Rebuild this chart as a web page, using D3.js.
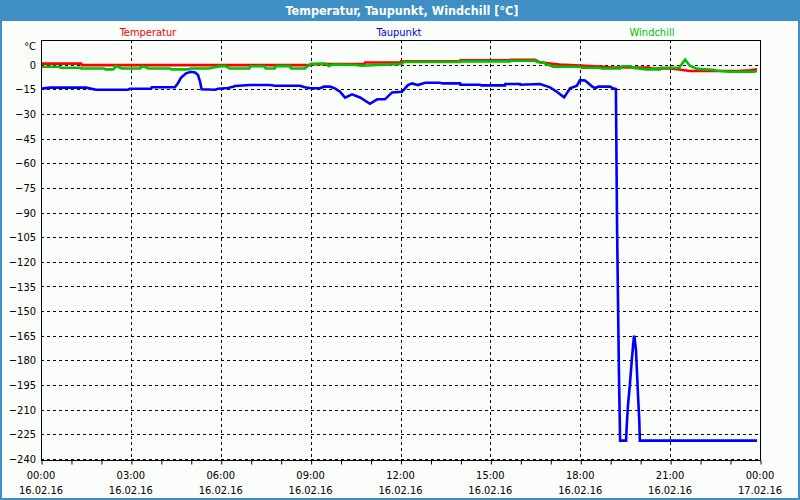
<!DOCTYPE html>
<html><head><meta charset="utf-8">
<script src="https://cdn.jsdelivr.net/npm/d3@7/dist/d3.min.js"></script>
<style>
html,body{margin:0;padding:0;background:#fff;}
svg text{font-family:"DejaVu Sans Condensed","Liberation Sans",Arial,sans-serif;}
</style></head><body>
<svg id="chart" width="800" height="500"></svg>
<script>
const title = "Temperatur, Taupunkt, Windchill [°C]";
const seriesNames = ["Temperatur", "Taupunkt", "Windchill"];
const seriesColors = ["#ff0000", "#0000ff", "#00c000"];
const yTicks = [0,-15,-30,-45,-60,-75,-90,-105,-120,-135,-150,-165,-180,-195,-210,-225,-240];
const xTickHours = [0,3,6,9,12,15,18,21,24];
const xTimeLabels = ["00:00","03:00","06:00","09:00","12:00","15:00","18:00","21:00","00:00"];
const xDateLabels = ["16.02.16","16.02.16","16.02.16","16.02.16","16.02.16","16.02.16","16.02.16","16.02.16","17.02.16"];

// Temperatur (hours since 16.02.16 00:00, °C)
const tempHours  = [0,1.34,1.36,9.0,9.02,10.8,10.82,12.0,12.02,13.99,14.0,15.65,15.67,16.49,16.66,17.0,17.3,18.0,18.66,19.0,20.3,20.35,21.0,21.3,21.66,23.3,23.66,23.9];
const tempValues = [0.6,0.6,-0.3,-0.3,0.3,0.3,1.3,1.3,2.0,2.0,2.6,2.6,3.0,3.0,1.4,0.6,0,-0.6,-1.2,-1.6,-1.8,-2.3,-2.3,-3.0,-3.9,-3.9,-3.5,-2.9];

// Taupunkt
const dewHours  = [0,0.3,1.5,1.84,2.9,2.97,3.67,3.7,4.47,4.57,4.67,4.84,5.01,5.14,5.24,5.31,5.36,5.81,5.91,6.24,6.41,6.48,6.98,7.64,7.81,8.64,8.81,9.0,9.31,9.45,9.65,9.81,9.98,10.15,10.38,10.65,10.98,11.22,11.48,11.72,12.05,12.25,12.38,12.58,12.82,13.32,13.4,13.99,14.0,14.65,14.7,15.49,15.5,15.99,16.0,16.66,16.99,17.22,17.46,17.66,17.89,17.99,18.16,18.42,18.52,18.6,18.99,19.09,19.19,19.21,19.23,19.26,19.29,19.33,19.53,19.55,19.59,19.66,19.72,19.79,19.81,19.86,19.93,19.97,19.99,23.9];
const dewValues = [-14.7,-14,-14,-15.3,-15.3,-14.7,-14.7,-13.8,-13.8,-11.4,-8,-5.3,-4.3,-4.7,-6.3,-10.4,-15,-15.3,-14.7,-14.2,-13.5,-13,-12.4,-12.4,-12.8,-12.8,-13.8,-14.4,-14.4,-13.4,-13.4,-14.4,-16.5,-20.1,-18.1,-20,-23.8,-21.1,-21.1,-16.9,-16.5,-12.4,-11.4,-12.4,-11,-11,-11.4,-11.4,-12.2,-12.2,-12.6,-12.6,-11.8,-11.8,-12.2,-11.8,-13.8,-16.5,-19.9,-14.4,-12.8,-9.4,-9.6,-13.6,-14.2,-13.4,-13.4,-14.4,-14.8,-58,-100.8,-143.3,-185.9,-228.8,-228.8,-220.4,-208.2,-193.8,-179.8,-165.6,-165.6,-173.7,-202,-216,-228.8,-228.8];

// Windchill
const windHours  = [0,0.6,0.65,1.3,1.35,2.1,2.15,2.4,2.45,2.5,2.7,3.3,3.4,3.6,4.3,4.35,4.9,5.0,5.6,5.8,6.0,6.15,6.3,6.95,7.0,7.45,7.5,7.8,7.85,8.3,8.35,8.8,9.0,9.5,9.6,9.75,10.5,10.7,11.2,11.9,12.05,12.1,13.99,14.0,15.65,15.7,16.5,16.55,16.8,16.85,17.0,17.1,18.0,18.05,18.66,18.7,19.33,19.4,19.7,19.75,20.2,20.66,20.7,21.3,21.5,21.66,21.9,22.4,22.6,23.0,23.8,23.9];
const windValues = [-1.3,-1.3,-1.9,-1.9,-2.3,-2.3,-2.9,-2.9,-2.3,-0.9,-2.3,-2.3,-1.0,-2.3,-2.3,-2.9,-2.9,-2.3,-2.3,-1.6,-0.9,-0.9,-2.3,-2.3,-1.0,-1.0,-2.3,-2.3,-0.9,-0.9,-2.3,-2.3,0.4,0.6,-0.8,0.1,-0.2,-0.7,-0.2,0.3,0.6,1.6,1.6,2.0,2.0,2.4,2.4,1.6,1.2,0.2,-0.5,-1.3,-1.3,-1.9,-1.9,-2.3,-2.3,-1.0,-1.0,-1.9,-2.9,-2.9,-1.9,-1.9,3.0,-0.7,-2.6,-3.1,-3.7,-4.3,-4.3,-3.9];

const svg = d3.select("#chart");
const W = 800, H = 500;
const m = {left:41, right:760, top:40, bottom:460};

// background
svg.append("rect").attr("x",0).attr("y",0).attr("width",W).attr("height",H).attr("fill","#fbfdfb");
// title bar
svg.append("rect").attr("x",0).attr("y",0).attr("width",W).attr("height",21).attr("fill","#3d8fc5");
svg.append("rect").attr("x",1).attr("y",1).attr("width",W-2).attr("height",H-2)
  .attr("fill","none").attr("stroke","#3d8fc5").attr("stroke-width",2);
svg.append("text").attr("x",402).attr("y",14.5).attr("text-anchor","middle")
  .attr("fill","#fff").attr("font-weight","bold").attr("font-size","12.5px").text(title);

const x = d3.scaleLinear().domain([0,24]).range([m.left, m.right]);
const y = d3.scaleLinear().domain([-240,15]).range([459, m.top]);

// legend
const legendX = [148, 399, 652];
seriesNames.forEach((n,i)=>{
  svg.append("text").attr("x",legendX[i]).attr("y",36).attr("text-anchor","middle")
    .attr("fill",seriesColors[i]).attr("font-size","11px").text(n);
});

// grid
const g = svg.append("g");
g.selectAll("line.h").data(yTicks).join("line")
  .attr("x1",m.left).attr("x2",m.right)
  .attr("y1",d=>Math.round(y(d))+0.5).attr("y2",d=>Math.round(y(d))+0.5)
  .attr("stroke","#000").attr("stroke-width",1).attr("stroke-dasharray","3,3");
g.selectAll("line.v").data(xTickHours.slice(1,-1)).join("line")
  .attr("x1",d=>Math.round(x(d))+0.5).attr("x2",d=>Math.round(x(d))+0.5)
  .attr("y1",m.top).attr("y2",m.bottom)
  .attr("stroke","#000").attr("stroke-width",1).attr("stroke-dasharray","3,3");

// plot frame
svg.append("rect").attr("x",m.left+0.5).attr("y",m.top+0.5)
  .attr("width",m.right-m.left).attr("height",m.bottom-m.top)
  .attr("fill","none").attr("stroke","#000").attr("stroke-width",1);

// x axis hourly ticks
const xAxis = d3.axisBottom(x).tickValues(d3.range(0,25,1)).tickSize(4).tickFormat("");
const xg = svg.append("g").attr("transform",`translate(0.5,${m.bottom+0.5})`).call(xAxis);
xg.select(".domain").remove();
xg.selectAll("line").attr("stroke","#000");

// x labels
xTickHours.forEach((h,i)=>{
  svg.append("text").attr("x",x(h)).attr("y",479).attr("text-anchor","middle")
    .attr("font-size","11px").attr("fill","#000").text(xTimeLabels[i]);
  svg.append("text").attr("x",x(h)).attr("y",494).attr("text-anchor","middle")
    .attr("font-size","11px").attr("fill","#000").text(xDateLabels[i]);
});

// y labels
const yAxis = d3.axisLeft(y).tickValues(yTicks).tickSize(0).tickPadding(5)
  .tickFormat(d=>d3.format("d")(d));
const yg = svg.append("g").attr("transform",`translate(${m.left},0)`).call(yAxis);
yg.select(".domain").remove();
yg.selectAll("text").attr("font-size","11px").attr("fill","#000")
  .attr("font-family",'"DejaVu Sans Condensed","Liberation Sans",Arial,sans-serif');
svg.append("text").attr("x",36).attr("y",50).attr("text-anchor","end")
  .attr("font-size","11px").attr("fill","#000").text("°C");

// lines
svg.append("clipPath").attr("id","clip").append("rect")
  .attr("x",m.left+1).attr("y",m.top+1).attr("width",m.right-m.left-1).attr("height",m.bottom-m.top-1);
const line = d3.line().x(d=>x(d[0])).y(d=>y(d[1]));
const series = [
  d3.zip(tempHours, tempValues),
  d3.zip(dewHours, dewValues),
  d3.zip(windHours, windValues)
];
const lg = svg.append("g").attr("clip-path","url(#clip)");
series.forEach((s,i)=>{
  lg.append("path").datum(s).attr("d",line).attr("fill","none")
    .attr("stroke",seriesColors[i]).attr("stroke-width",2.6)
    .attr("stroke-linejoin","miter");
});
</script>
</body></html>
